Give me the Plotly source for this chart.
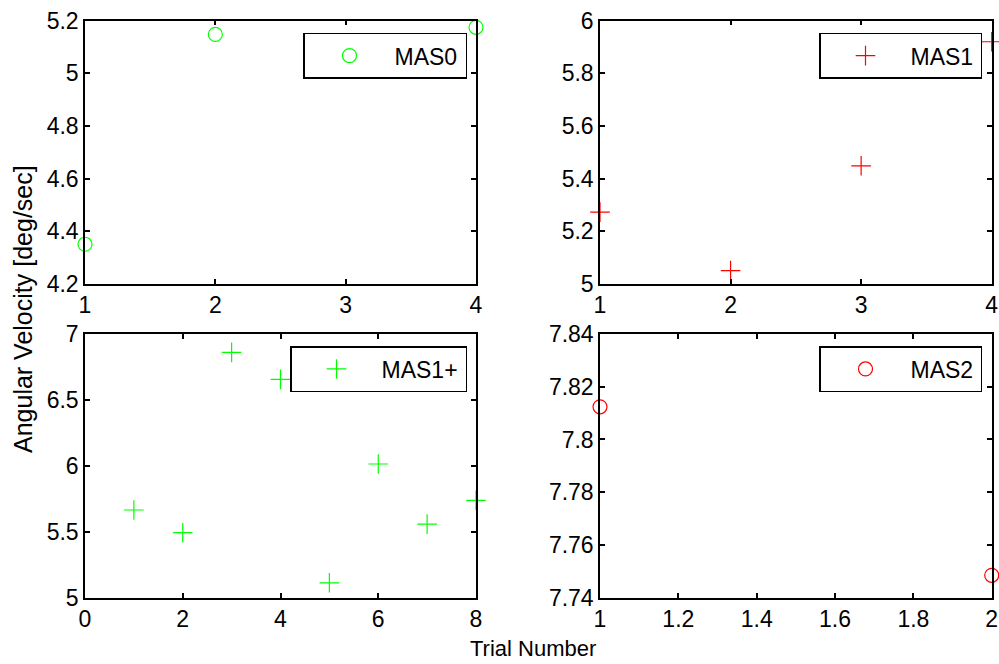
import plotly.graph_objects as go

# datos
trial_mas0 = [1, 2, 4]
vel_mas0 = [4.351, 5.148, 5.175]

trial_mas1 = [1, 2, 3, 4]
vel_mas1 = [5.273, 5.051, 5.449, 5.92]

trial_mas1p = [1, 2, 3, 4, 5, 6, 7, 8]
vel_mas1p = [5.665, 5.493, 6.861, 6.656, 5.113, 6.014, 5.558, 5.738]

trial_mas2 = [1, 2]
vel_mas2 = [7.8124, 7.7485]

W, H = 999, 664
fuente = dict(family='Arial, Liberation Sans, sans-serif', size=23, color='black')

fig = go.Figure()

# (nombre, x, y, simbolo, color, eje, leyenda)
series = [
    ('MAS0', trial_mas0, vel_mas0, 'circle-open', '#00ff00', ('x', 'y'), 'legend'),
    ('MAS1', trial_mas1, vel_mas1, 'cross-thin-open', '#ff0000', ('x2', 'y2'), 'legend2'),
    ('MAS1+', trial_mas1p, vel_mas1p, 'cross-thin-open', '#00ff00', ('x3', 'y3'), 'legend3'),
    ('MAS2', trial_mas2, vel_mas2, 'circle-open', '#ff0000', ('x4', 'y4'), 'legend4'),
]
for nombre, xs, ys, simbolo, color, (xa, ya), leg in series:
    fig.add_trace(go.Scatter(
        x=xs, y=ys, mode='markers', name=nombre, showlegend=True,
        xaxis=xa, yaxis=ya, legend=leg, cliponaxis=False,
        marker=dict(symbol=simbolo, size=14, color=color,
                    line=dict(color=color, width=1.2))
    ))

def eje(dominio, rango, paso, anchor):
    return dict(domain=dominio, range=rango, dtick=paso, tick0=rango[0],
                anchor=anchor, showgrid=False, zeroline=False, automargin=False,
                showline=True, linecolor='black', linewidth=1.5,
                mirror='ticks', ticks='inside', ticklen=5, tickwidth=1.5,
                tickcolor='black', tickfont=fuente)

# columnas y filas en pixeles
col1 = [85 / W, 476 / W]
col2 = [600 / W, 991.7 / W]
fila1 = [1 - 284 / H, 1 - 20.7 / H]
fila2 = [1 - 597.7 / H, 1 - 334 / H]

def leyenda(x0, y0, ancho):
    return dict(x=x0 / W, y=1 - y0 / H, xanchor='left', yanchor='top',
                xref='paper', yref='paper',
                bgcolor='white', bordercolor='black', borderwidth=1.5,
                font=fuente, itemwidth=80, orientation='h',
                entrywidth=ancho, entrywidthmode='pixels')

fig.update_layout(
    width=W, height=H,
    margin=dict(l=0, r=0, t=0, b=0, autoexpand=False),
    plot_bgcolor='white', paper_bgcolor='white',
    font=fuente, showlegend=True,
    xaxis=eje(col1, [1, 4], 1, 'y'),
    yaxis=eje(fila1, [4.2, 5.2], 0.2, 'x'),
    xaxis2=eje(col2, [1, 4], 1, 'y2'),
    yaxis2=eje(fila1, [5, 6], 0.2, 'x2'),
    xaxis3=eje(col1, [0, 8], 2, 'y3'),
    yaxis3=eje(fila2, [5, 7], 0.5, 'x3'),
    xaxis4=eje(col2, [1, 2], 0.2, 'y4'),
    yaxis4=eje(fila2, [7.74, 7.84], 0.02, 'x4'),
    legend=leyenda(303, 32.7, 66),
    legend2=leyenda(819, 32.7, 65),
    legend3=leyenda(290, 346, 79),
    legend4=leyenda(819, 346, 65),
    annotations=[
        dict(text='Angular Velocity [deg/sec]', x=23 / W, y=1 - 309 / H,
             xref='paper', yref='paper', showarrow=False, textangle=-90,
             xanchor='center', yanchor='middle',
             font=dict(fuente, size=25)),
        dict(text='Trial Number', x=533 / W, y=1 - 648 / H,
             xref='paper', yref='paper', showarrow=False,
             xanchor='center', yanchor='middle',
             font=dict(fuente, size=22)),
    ],
)

fig.write_html("out.html", config={'displayModeBar': False},
               post_script="document.body.style.margin='0';")
